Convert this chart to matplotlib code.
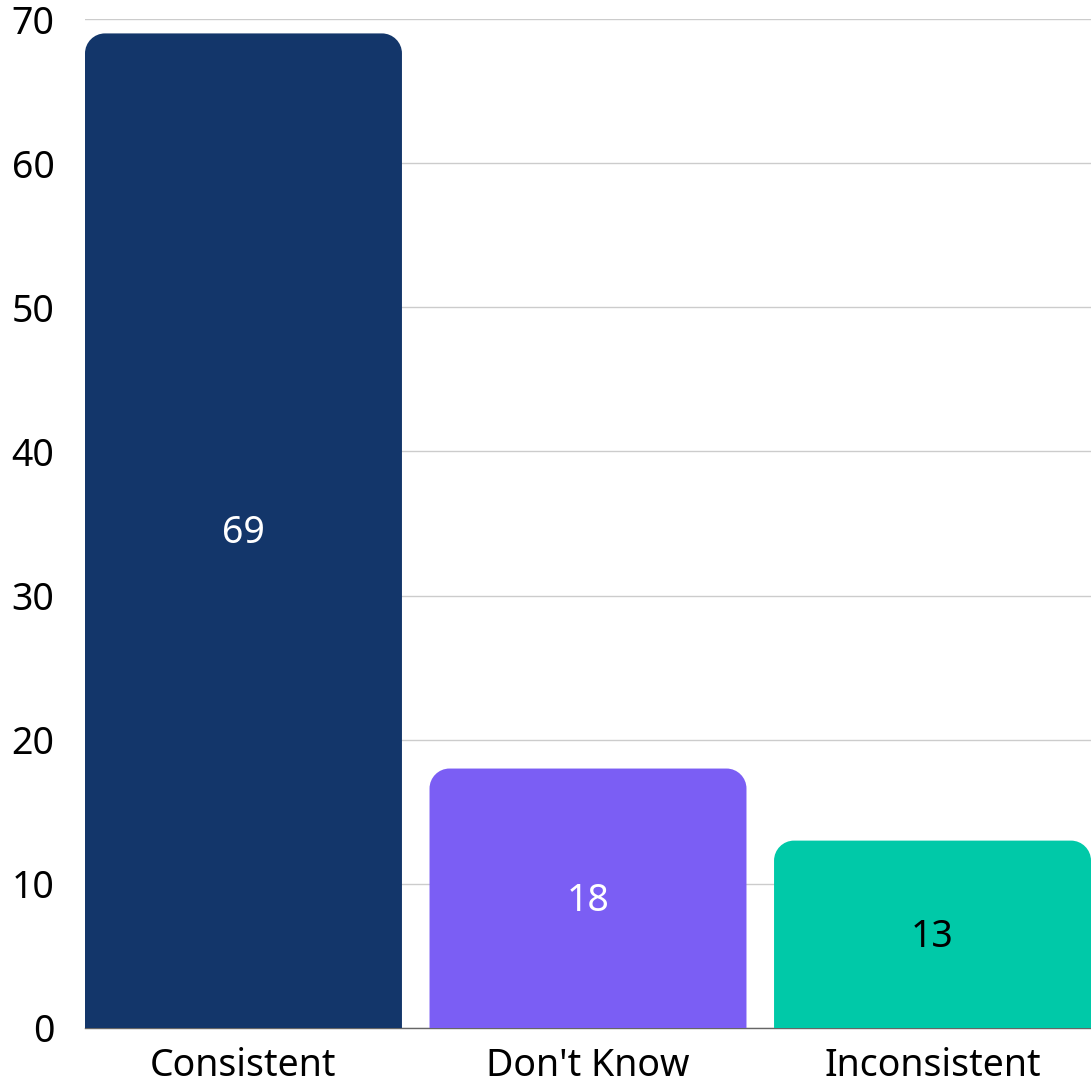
import matplotlib.pyplot as plt
from matplotlib.path import Path
from matplotlib.patches import PathPatch

categories = ["Consistent", "Don't Know", "Inconsistent"]
values = [69, 18, 13]
colors = ["#13366a", "#7b5ef4", "#00c9a8"]
label_colors = ["white", "white", "black"]

plt.rcParams['font.family'] = ['Noto Sans', 'DejaVu Sans']


def rounded_top(x0, w, h, rx, ry):
    # rectangle with circular-looking top corners (cubic bezier quarter arcs)
    k = 0.5523
    x1 = x0 + w
    verts = [(x0, 0), (x0, h - ry),
             (x0, h - ry + k * ry), (x0 + rx - k * rx, h), (x0 + rx, h),
             (x1 - rx, h),
             (x1 - rx + k * rx, h), (x1, h - ry + k * ry), (x1, h - ry),
             (x1, 0), (x0, 0)]
    codes = [Path.MOVETO, Path.LINETO,
             Path.CURVE4, Path.CURVE4, Path.CURVE4,
             Path.LINETO,
             Path.CURVE4, Path.CURVE4, Path.CURVE4,
             Path.LINETO, Path.CLOSEPOLY]
    return Path(verts, codes)


fig = plt.figure(figsize=(10.91, 10.87), dpi=100)
ax = fig.add_axes([85 / 1091, 59 / 1087, 1006 / 1091, 1009 / 1087])

xs = range(len(categories))
bars = ax.bar(xs, values, width=0.92, color=colors, zorder=2)

ax.set_xlim(-0.46, 2.46)
ax.set_ylim(0, 70)

# corner radius of ~20 px expressed in data units
rx = 0.058
ry = 1.39
for b, c in zip(bars, colors):
    b.set_visible(False)
    p = rounded_top(b.get_x(), b.get_width(), b.get_height(), rx, ry)
    ax.add_patch(PathPatch(p, facecolor=c, edgecolor='none', zorder=2))

for i, v in enumerate(values):
    ax.annotate(str(v), (i, v / 2), xytext=(0, -2), textcoords='offset points',
                ha='center', va='center', fontsize=27,
                color=label_colors[i], zorder=3)

ax.set_yticks(range(0, 71, 10))
ax.set_xticks(list(xs))
ax.set_xticklabels(categories)
ax.tick_params(axis='both', length=0, labelsize=27, colors='black')
ax.tick_params(axis='y', pad=22)
ax.tick_params(axis='x', pad=14)
ax.yaxis.grid(True, color='#cccccc', linewidth=1, zorder=0)
ax.set_axisbelow(True)
for s in ['top', 'right', 'left']:
    ax.spines[s].set_visible(False)
ax.spines['bottom'].set_color('#666666')
ax.spines['bottom'].set_linewidth(1)
ax.spines['bottom'].set_zorder(1)

plt.savefig("out.png", dpi=100)
